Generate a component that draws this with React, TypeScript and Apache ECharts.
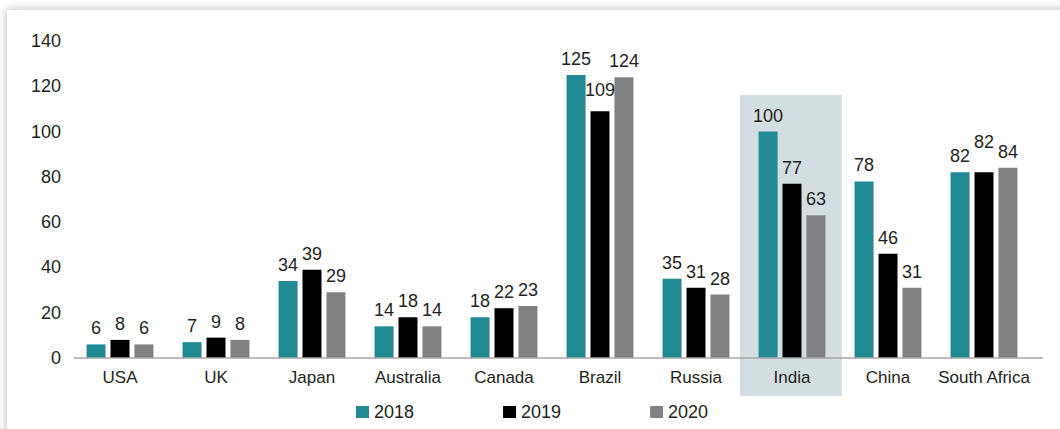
import React, { useEffect, useRef } from "react";
import * as echarts from "echarts";

const categories = ["USA", "UK", "Japan", "Australia", "Canada", "Brazil", "Russia", "India", "China", "South Africa"];
const values2018 = [6, 7, 34, 14, 18, 125, 35, 100, 78, 82];
const values2019 = [8, 9, 39, 18, 22, 109, 31, 77, 46, 82];
const values2020 = [6, 8, 29, 14, 23, 124, 28, 63, 31, 84];
const seriesNames = ["2018", "2019", "2020"];
const yTicks = { min: 0, max: 140, interval: 20 };
const highlighted = "India";

const COLORS = ["#208b95", "#000000", "#808184"];
const FONT = "'Liberation Sans', Arial, Helvetica, sans-serif";
const TEXT = "#231f20";

export default function App() {
  const ref = useRef<HTMLDivElement>(null);

  useEffect(() => {
    if (!ref.current) return;
    const chart = echarts.init(ref.current, undefined, { renderer: "svg" });
    const all = [values2018, values2019, values2020];
    const hiIdx = categories.indexOf(highlighted);
    const gridLeft = 72;
    const gridRight = 28;
    const band = (1060 - gridLeft - gridRight) / categories.length;
    const hiCenter = gridLeft + band * (hiIdx + 0.5);

    chart.setOption({
      animation: false,
      textStyle: { fontFamily: FONT },
      grid: { left: gridLeft, right: gridRight, top: 41, bottom: 71, containLabel: false },
      legend: {
        data: seriesNames,
        left: 351,
        top: 398,
        itemWidth: 13,
        itemHeight: 12,
        itemGap: 89,
        icon: "rect",
        textStyle: { fontSize: 18, color: TEXT, fontFamily: FONT, padding: [0, 0, 0, 0] },
      },
      xAxis: {
        type: "category",
        data: categories,
        axisLine: { show: false },
        axisTick: { show: false },
        axisLabel: { color: TEXT, fontSize: 17, margin: 11, fontFamily: FONT, interval: 0 },
      },
      yAxis: {
        type: "value",
        min: yTicks.min,
        max: yTicks.max,
        interval: yTicks.interval,
        splitLine: { show: false },
        axisLine: { show: false },
        axisTick: { show: false },
        axisLabel: { color: TEXT, fontSize: 18, margin: 11, fontFamily: FONT },
      },
      graphic: [
        {
          type: "rect",
          z: 0,
          shape: { x: hiCenter - 52, y: 95, width: 102, height: 301 },
          style: { fill: "#d3dee2" },
          silent: true,
        },
        {
          type: "line",
          z: 10,
          shape: { x1: 74, y1: 358, x2: 1043, y2: 358 },
          style: { stroke: "#a6a6a6", lineWidth: 1.5 },
          silent: true,
        },
      ],
      series: seriesNames.map((name, si) => ({
        name,
        type: "bar",
        barWidth: 19,
        barGap: "26%",
        z: 2,
        itemStyle: { color: COLORS[si] },
        label: {
          show: true,
          position: "top",
          distance: 7,
          color: TEXT,
          fontSize: 18,
          fontFamily: FONT,
        },
        data: all[si].map((v, ci) => {
          if (si === 1 && categories[ci] === "South Africa") {
            return { value: v, label: { offset: [0, -14] } };
          }
          if (si === 1 && categories[ci] === "Brazil") {
            return { value: v, label: { offset: [0, -5] } };
          }
          return v;
        }),
      })),
    });
    return () => chart.dispose();
  }, []);

  return (
    <div
      style={{
        position: "fixed",
        left: 0,
        top: 0,
        width: 1060,
        height: 429,
        overflow: "hidden",
        background: "#ffffff",
      }}
    >
      <div
        style={{
          position: "absolute",
          left: 7,
          top: 10,
          width: 1100,
          height: 460,
          background: "#ffffff",
          boxShadow: "0 0 9px rgba(0,0,0,0.28)",
        }}
      />
      <div ref={ref} style={{ position: "absolute", left: 0, top: 0, width: 1060, height: 429 }} />
    </div>
  );
}
